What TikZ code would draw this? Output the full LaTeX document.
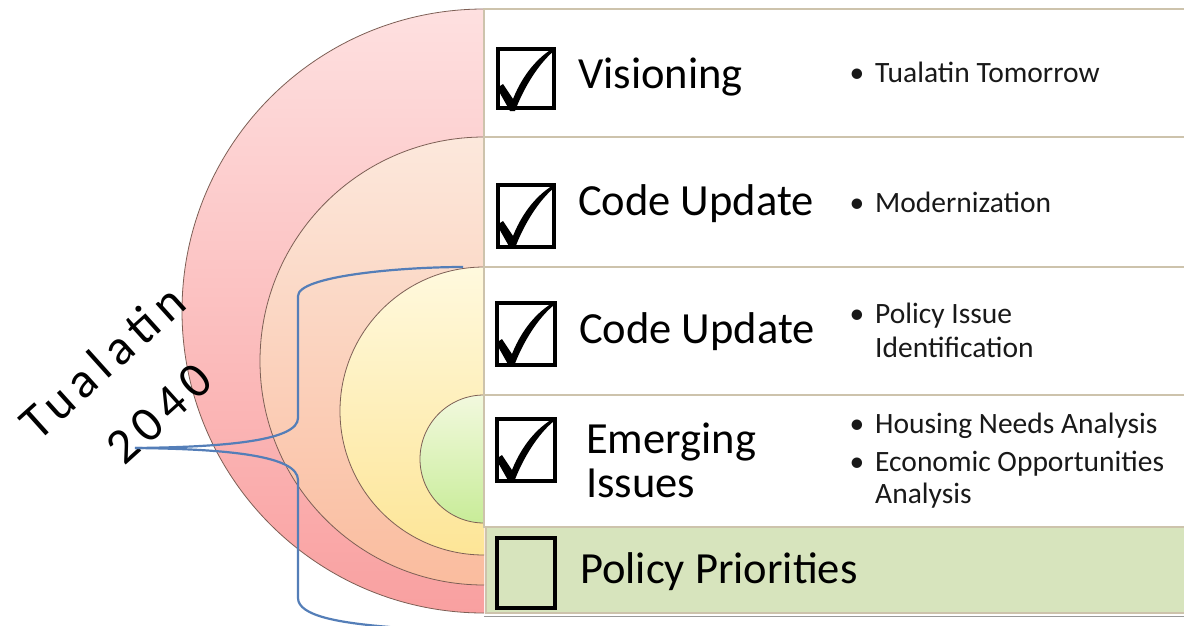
\documentclass[tikz,border=0pt]{standalone}
\usepackage{fontspec}
\setmainfont{Carlito}
\newfontfamily\handfont[LetterSpace=14]{Carlito}
\definecolor{rowline}{RGB}{205,195,172}
\definecolor{circline}{RGB}{125,95,85}
\definecolor{textdark}{RGB}{25,25,25}
\definecolor{braceblue}{RGB}{84,126,184}
\definecolor{greenrow}{RGB}{215,228,189}
\definecolor{aT}{RGB}{254,224,224}
\definecolor{aB}{RGB}{249,160,160}
\definecolor{bT}{RGB}{252,232,220}
\definecolor{bB}{RGB}{250,188,158}
\definecolor{cT}{RGB}{255,249,222}
\definecolor{cB}{RGB}{253,229,150}
\definecolor{dT}{RGB}{242,249,222}
\definecolor{dB}{RGB}{200,236,152}
\begin{document}
\begin{tikzpicture}[x=1pt,y=-1pt,
  circ/.style={draw=circline, line width=0.8pt},
  rowbox/.style={draw=rowline, line width=1.2pt},
  cbox/.style={draw=black, line width=3.2pt},
  title/.style={anchor=base west, inner sep=0pt, font=\fontsize{44.5}{50}\selectfont},
  item/.style={anchor=base west, inner sep=0pt, font=\fontsize{29.5}{34}\selectfont, text=textdark},
  bul/.style={anchor=base, inner sep=0pt, font=\fontsize{29.5}{34}\selectfont, text=textdark},
  brace/.style={draw=braceblue, line width=2.2pt},
  hand/.style={anchor=center, inner sep=0pt, rotate=42, font=\handfont\fontsize{50}{54}\selectfont},
  chk/.pic={\fill[black] (-1,39) -- (5,35) -- (15,50) .. controls (25,25) and (40,8) .. (57,-2)
     -- (57,1) .. controls (41,14) and (26,38) .. (17,62) -- (12,62) -- cycle;}
]
\useasboundingbox (0,0) rectangle (1184,625);
\fill[white] (0,0) rectangle (1184,625);

% concentric half circles
\begin{scope}
  \clip (0,0) rectangle (484,625);
  \shade[circ, top color=aT, bottom color=aB] (484,311) circle (302);
  \shade[circ, top color=bT, bottom color=bB] (484,361) circle (224);
  \shade[circ, top color=cT, bottom color=cB] (484,411) circle (144);
  \shade[circ, top color=dT, bottom color=dB] (484,459) circle (64);
\end{scope}

% rows
\draw[rowbox, fill=white] (484,9) rectangle (1190,137);
\draw[rowbox, fill=white] (484,137) rectangle (1190,267);
\draw[rowbox, fill=white] (484,267) rectangle (1190,395);
\draw[rowbox, fill=white] (484,395) rectangle (1190,527);
\draw[rowbox, fill=greenrow] (486,527) rectangle (1190,613);
\draw[draw=black!40, line width=1pt] (484,616) -- (1190,616);

% check boxes
\draw[cbox] (498,49) rectangle (554,108);
\pic at (498,49) {chk};
\draw[cbox] (498,185) rectangle (554,247);
\pic at (498,186) {chk};
\draw[cbox] (497,303) rectangle (555,365);
\pic at (497,304) {chk};
\draw[cbox] (497,419) rectangle (555,481);
\pic at (497,420) {chk};
\draw[cbox] (497,538) rectangle (555,608);

% titles
\node[title] (t1) at (578,88) {Visioning};
\node[title] (t2) at (578,215) {Code Update};
\node[title] (t3) at (579,343) {Code Update};
\node[title] (t4a) at (586,453) {Emerging};
\node[title] (t4b) at (586,497) {Issues};
\node[title] (t5) at (580,583) {Policy Priorities};

% bullet items
\node[bul] (b1) at (857,82) {•};
\node[item] (i1) at (875,82) {Tualatin Tomorrow};
\node[bul] (b2) at (857,212) {•};
\node[item] (i2) at (875,212) {Modernization};
\node[bul] (b3) at (857,323) {•};
\node[item] (i3a) at (875,323) {Policy Issue};
\node[item] (i3b) at (875,357) {Identification};
\node[bul] (b4) at (857,433) {•};
\node[item] (i4) at (875,433) {Housing Needs Analysis};
\node[bul] (b5) at (857,471) {•};
\node[item] (i5a) at (875,471) {Economic Opportunities};
\node[item] (i5b) at (875,503) {Analysis};

% handwritten label
\node[hand] (hw1) at (102,362) {Tualatin};
\node[hand] (hw2) at (159,414) {2040};

% brace
\coordinate (tip) at (135,448);
\coordinate (upend) at (463,267);
\coordinate (lowend) at (390,627);
\draw[brace] (tip) .. controls (230,447) and (298,440) .. (298,418) -- (298,296)
   .. controls (298,276) and (400,267) .. (upend);
\draw[brace] (tip) .. controls (230,449) and (298,456) .. (298,480) -- (298,598)
   .. controls (298,616) and (340,623) .. (lowend);
\end{tikzpicture}
\end{document}
